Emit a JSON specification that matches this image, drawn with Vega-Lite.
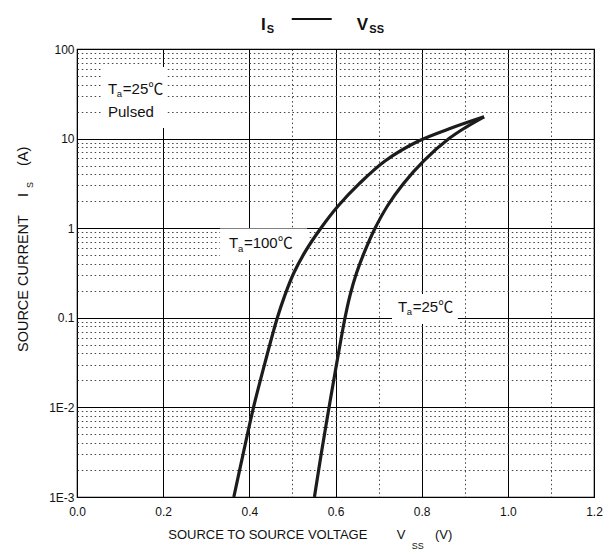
{
  "$schema": "https://vega.github.io/schema/vega-lite/v6.json",
  "width": 517,
  "height": 448,
  "autosize": {"type": "none"},
  "padding": {"left": 77, "top": 49, "right": 10, "bottom": 54},
  "background": "white",
  "config": {
    "view": {"stroke": "#000", "strokeWidth": 1.2},
    "font": "Liberation Sans",
    "text": {"font": "Liberation Sans, Noto Sans CJK SC", "color": "#111"}
  },
  "datasets": {
    "curves": [
      {"x": 0.364, "y": 0.001, "temp": "100"},
      {"x": 0.3865, "y": 0.00316, "temp": "100"},
      {"x": 0.4097, "y": 0.01, "temp": "100"},
      {"x": 0.4364, "y": 0.0316, "temp": "100"},
      {"x": 0.465, "y": 0.1, "temp": "100"},
      {"x": 0.4824, "y": 0.178, "temp": "100"},
      {"x": 0.5032, "y": 0.316, "temp": "100"},
      {"x": 0.5311, "y": 0.562, "temp": "100"},
      {"x": 0.5659, "y": 1.0, "temp": "100"},
      {"x": 0.6065, "y": 1.78, "temp": "100"},
      {"x": 0.6558, "y": 3.16, "temp": "100"},
      {"x": 0.7149, "y": 5.62, "temp": "100"},
      {"x": 0.7916, "y": 9.33, "temp": "100"},
      {"x": 0.8705, "y": 13.2, "temp": "100"},
      {"x": 0.9448, "y": 17.5, "temp": "100"},
      {"x": 0.5511, "y": 0.001, "temp": "25"},
      {"x": 0.5675, "y": 0.00316, "temp": "25"},
      {"x": 0.585, "y": 0.01, "temp": "25"},
      {"x": 0.6031, "y": 0.0316, "temp": "25"},
      {"x": 0.6221, "y": 0.1, "temp": "25"},
      {"x": 0.6337, "y": 0.178, "temp": "25"},
      {"x": 0.6488, "y": 0.316, "temp": "25"},
      {"x": 0.6685, "y": 0.562, "temp": "25"},
      {"x": 0.6918, "y": 1.0, "temp": "25"},
      {"x": 0.7208, "y": 1.78, "temp": "25"},
      {"x": 0.7579, "y": 3.16, "temp": "25"},
      {"x": 0.8043, "y": 5.62, "temp": "25"},
      {"x": 0.8635, "y": 10, "temp": "25"},
      {"x": 0.9006, "y": 13.2, "temp": "25"},
      {"x": 0.9448, "y": 17.5, "temp": "25"}
    ],
    "boxes": [
      {"x": 0.0604, "x2": 0.2089, "y": 63.0, "y2": 13.1},
      {"x": 0.332, "x2": 0.534, "y": 0.99, "y2": 0.441},
      {"x": 0.731, "x2": 0.884, "y": 0.1846, "y2": 0.0853}
    ],
    "tlabels": [
      {"x": 0.072, "y": 31.7, "t": "T", "sub": "a", "rest": "=25℃"},
      {"x": 0.353, "y": 0.597, "t": "T", "sub": "a", "rest": "=100℃"},
      {"x": 0.745, "y": 0.117, "t": "T", "sub": "a", "rest": "=25℃"}
    ],
    "plain": [
      {"x": 0.072, "y": 17.4, "text": "Pulsed"}
    ],
    "titleBig": [
      {"x": 0.4271, "y": 100, "text": "I"},
      {"x": 0.6493, "y": 100, "text": "V"}
    ],
    "titleSub": [
      {"x": 0.4403, "y": 100, "text": "S"},
      {"x": 0.6785, "y": 100, "text": "SS"}
    ],
    "titleDash": [
      {"x": 0.4984, "x2": 0.5912, "y": 100}
    ],
    "xTitle": [
      {"x": 0.2118, "y": 0.001, "text": "SOURCE TO SOURCE VOLTAGE"},
      {"x": 0.742, "y": 0.001, "text": "V"},
      {"x": 0.831, "y": 0.001, "text": "(V)"}
    ],
    "xTitleSub": [
      {"x": 0.777, "y": 0.001, "text": "SS"}
    ],
    "yTitle": [
      {"x": 0, "y": 0.0415, "text": "SOURCE CURRENT"},
      {"x": 0, "y": 2.23, "text": "I"},
      {"x": 0, "y": 4.94, "text": "(A)"}
    ],
    "yTitleSub": [
      {"x": 0, "y": 2.81, "text": "S"}
    ]
  },
  "encoding": {
    "x": {
      "field": "x",
      "type": "quantitative",
      "scale": {"domain": [0, 1.2], "nice": false, "zero": false},
      "axis": {
        "values": [0, 0.2, 0.4, 0.5, 0.6, 0.7, 0.8, 0.9, 1, 1.1, 1.2],
        "labelExpr": "round(datum.value*10)%2==0 ? format(datum.value,'.1f') : ''",
        "title": null,
        "ticks": false,
        "tickSize": 0,
        "domain": false,
        "grid": true,
        "gridWidth": 1,
        "gridColor": {"condition": {"test": "round(datum.value*10)%2==1", "value": "#444"}, "value": "#000"},
        "gridDash": {"condition": {"test": "round(datum.value*10)%2==1", "value": [1.5, 2.8]}, "value": []},
        "labelFont": "Liberation Sans",
        "labelFontSize": 12,
        "labelColor": "#111",
        "labelPadding": 9,
        "labelOverlap": false,
        "labelFlush": false,
        "labelBound": false
      }
    },
    "y": {
      "field": "y",
      "type": "quantitative",
      "scale": {"type": "log", "domain": [0.001, 100], "nice": false},
      "axis": {
        "values": [0.001, 0.002, 0.003, 0.004, 0.005, 0.006, 0.007, 0.008, 0.009,
                   0.01, 0.02, 0.03, 0.04, 0.05, 0.06, 0.07, 0.08, 0.09,
                   0.1, 0.2, 0.3, 0.4, 0.5, 0.6, 0.7, 0.8, 0.9,
                   1, 2, 3, 4, 5, 6, 7, 8, 9,
                   10, 20, 30, 40, 50, 60, 70, 80, 90, 100],
        "labelExpr": "datum.value==100 ? '100' : datum.value==10 ? '10' : datum.value==1 ? '1' : datum.value==0.1 ? '0.1' : datum.value==0.01 ? '1E-2' : datum.value==0.001 ? '1E-3' : ''",
        "title": null,
        "ticks": false,
        "tickSize": 0,
        "domain": false,
        "grid": true,
        "gridWidth": 1,
        "gridColor": {"condition": {"test": "indexof([0.001,0.01,0.1,1,10,100], datum.value) < 0", "value": "#444"}, "value": "#000"},
        "gridDash": {"condition": {"test": "indexof([0.001,0.01,0.1,1,10,100], datum.value) < 0", "value": [1.5, 2.8]}, "value": []},
        "labelFont": "Liberation Sans",
        "labelFontSize": 12,
        "labelColor": "#111",
        "labelPadding": 3,
        "labelOverlap": false,
        "labelFlush": false,
        "labelBound": false
      }
    }
  },
  "layer": [
    {
      "data": {"name": "boxes"},
      "mark": {"type": "rect", "fill": "white", "stroke": null},
      "encoding": {"x2": {"field": "x2"}, "y2": {"field": "y2"}}
    },
    {
      "data": {"name": "curves"},
      "mark": {"type": "line", "color": "#1c1c1c", "strokeWidth": 3.2, "interpolate": "catmull-rom"},
      "encoding": {"detail": {"field": "temp"}}
    },
    {
      "data": {"name": "tlabels"},
      "mark": {"type": "text", "fontSize": 15, "align": "left", "baseline": "alphabetic"},
      "encoding": {"text": {"field": "t"}}
    },
    {
      "data": {"name": "tlabels"},
      "mark": {"type": "text", "fontSize": 9.5, "align": "left", "baseline": "alphabetic", "dx": 8.8, "dy": 3.5},
      "encoding": {"text": {"field": "sub"}}
    },
    {
      "data": {"name": "tlabels"},
      "mark": {"type": "text", "fontSize": 15, "align": "left", "baseline": "alphabetic", "dx": 14.8},
      "encoding": {"text": {"field": "rest"}}
    },
    {
      "data": {"name": "plain"},
      "mark": {"type": "text", "fontSize": 15, "align": "left", "baseline": "alphabetic"},
      "encoding": {"text": {"field": "text"}}
    },
    {
      "data": {"name": "titleBig"},
      "mark": {"type": "text", "fontSize": 17, "fontWeight": "bold", "align": "left", "baseline": "alphabetic", "dy": -19},
      "encoding": {"text": {"field": "text"}}
    },
    {
      "data": {"name": "titleSub"},
      "mark": {"type": "text", "fontSize": 11, "fontWeight": "bold", "align": "left", "baseline": "alphabetic", "dy": -16},
      "encoding": {"text": {"field": "text"}}
    },
    {
      "data": {"name": "titleDash"},
      "mark": {"type": "rule", "color": "#111", "strokeWidth": 2, "yOffset": -30},
      "encoding": {"x2": {"field": "x2"}}
    },
    {
      "data": {"name": "xTitle"},
      "mark": {"type": "text", "fontSize": 13, "align": "left", "baseline": "alphabetic", "dy": 42},
      "encoding": {"text": {"field": "text"}}
    },
    {
      "data": {"name": "xTitleSub"},
      "mark": {"type": "text", "fontSize": 9, "align": "left", "baseline": "alphabetic", "dy": 52},
      "encoding": {"text": {"field": "text"}}
    },
    {
      "data": {"name": "yTitle"},
      "mark": {"type": "text", "fontSize": 14.5, "align": "left", "baseline": "alphabetic", "angle": 270, "dy": -49},
      "encoding": {"text": {"field": "text"}}
    },
    {
      "data": {"name": "yTitleSub"},
      "mark": {"type": "text", "fontSize": 9, "align": "left", "baseline": "alphabetic", "angle": 270, "dy": -44},
      "encoding": {"text": {"field": "text"}}
    }
  ]
}
